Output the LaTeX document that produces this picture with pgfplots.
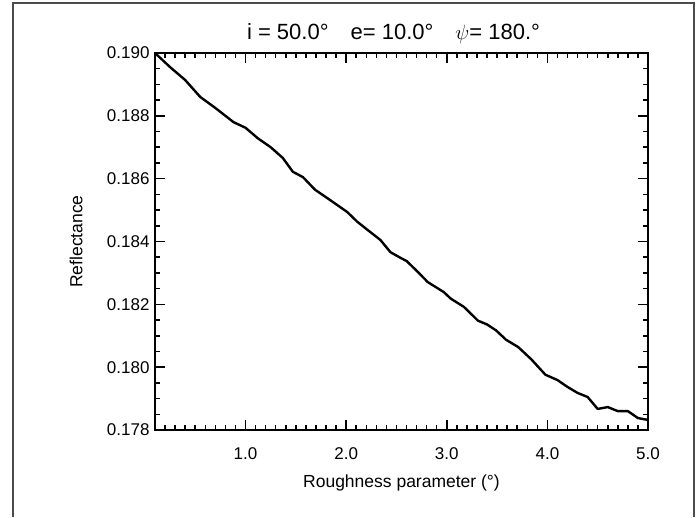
\documentclass[border=0pt]{standalone}
\usepackage{fontspec}
\setmainfont{Liberation Sans}
\usepackage{pgfplots}
\pgfplotsset{compat=1.18}
\begin{document}
\begin{tikzpicture}[x=1pt,y=1pt]
\useasboundingbox (0,0) rectangle (698,517);
\draw[line width=1.5pt, black!70] (13,0) -- (13,514) -- (694,514) -- (694,0);
\begin{axis}[
  at={(155pt,87pt)}, anchor=south west,
  width=493pt, height=377pt, scale only axis,
  xmin=0.1, xmax=5.0, ymin=0.178, ymax=0.190,
  axis line style={line width=1.8pt},
  every tick/.style={line width=1.5pt, black},
  xtick={1,2,3,4,5},
  ytick={0.178,0.180,0.182,0.184,0.186,0.188,0.190},
  minor xtick={0.2,0.3,0.4,0.5,0.6,0.7,0.8,0.9,1.1,1.2,1.3,1.4,1.5,1.6,1.7,1.8,1.9,2.1,2.2,2.3,2.4,2.5,2.6,2.7,2.8,2.9,3.1,3.2,3.3,3.4,3.5,3.6,3.7,3.8,3.9,4.1,4.2,4.3,4.4,4.5,4.6,4.7,4.8,4.9},
  minor ytick={0.1785,0.1790,0.1795,0.1805,0.1810,0.1815,0.1825,0.1830,0.1835,0.1845,0.1850,0.1855,0.1865,0.1870,0.1875,0.1885,0.1890,0.1895},
  major tick length=10pt, minor tick length=5pt,
  tick align=inside,
  /pgf/number format/assume math mode=true,
  x tick label style={/pgf/number format/fixed, /pgf/number format/fixed zerofill, /pgf/number format/precision=1, yshift=-14pt},
  y tick label style={/pgf/number format/fixed, /pgf/number format/fixed zerofill, /pgf/number format/precision=3, xshift=-2pt},
  scaled y ticks=false,
  tick label style={font=\fontsize{17}{20}\selectfont},
  xlabel={Roughness parameter (°)},
  ylabel={Reflectance},
  every axis x label/.style={at={(axis description cs:0.5,0)}, anchor=base, yshift=-57pt, font=\fontsize{17.5}{20}\selectfont},
  every axis y label/.style={at={(axis description cs:0,0.5)}, rotate=90, anchor=center, yshift=79pt, font=\fontsize{17.5}{20}\selectfont},
  title={i = 50.0°\quad e= 10.0°\quad $\psi$= 180.°},
  every axis title/.style={at={(axis description cs:0.5,1)}, anchor=base, yshift=13pt, xshift=-8pt, font=\fontsize{22}{26}\selectfont},
]
\addplot[black, line width=2.4pt, line join=round] coordinates {
(0.10,0.19000) (0.25,0.18955) (0.40,0.18914) (0.55,0.18860) (0.70,0.18825)
(0.88,0.18780) (1.00,0.18762) (1.12,0.18729) (1.25,0.18700) (1.37,0.18666)
(1.47,0.18622) (1.57,0.18605) (1.69,0.18565) (1.84,0.18532) (2.01,0.18494)
(2.11,0.18463) (2.24,0.18430) (2.34,0.18405) (2.44,0.18366) (2.54,0.18348)
(2.60,0.18338) (2.71,0.18304) (2.81,0.18271) (2.97,0.18239) (3.04,0.18218)
(3.17,0.18192) (3.31,0.18148) (3.40,0.18136) (3.49,0.18117) (3.59,0.18087)
(3.71,0.18064) (3.84,0.18025) (3.98,0.17976) (4.10,0.17959) (4.20,0.17937)
(4.30,0.17918) (4.40,0.17905) (4.50,0.17867) (4.60,0.17873) (4.70,0.17860)
(4.80,0.17860) (4.90,0.17838) (5.00,0.17832)
};
\end{axis}
\end{tikzpicture}
\end{document}
